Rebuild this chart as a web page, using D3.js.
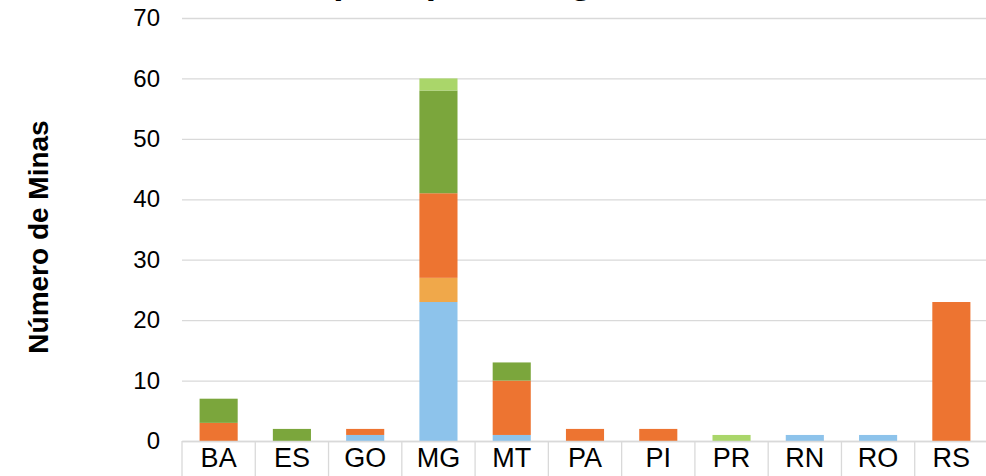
<!DOCTYPE html>
<html>
<head>
<meta charset="utf-8">
<script src="https://cdn.jsdelivr.net/npm/d3@7"></script>
<style>
  body { margin: 0; background: #fff; }
  svg { display: block; font-family: 'Liberation Sans', Arial, sans-serif; }
</style>
</head>
<body>
<script>
// categories (estados) and the five stacked series, bottom to top
let categories = ['BA', 'ES', 'GO', 'MG', 'MT', 'PA', 'PI', 'PR', 'RN', 'RO', 'RS']
let seriesNames = ['Tipo A', 'Tipo B', 'Tipo C', 'Tipo D', 'Tipo E']
let tipoA = [0, 0, 1, 23, 1, 0, 0, 0, 1, 1, 0]
let tipoB = [0, 0, 0, 4, 0, 0, 0, 0, 0, 0, 0]
let tipoC = [3, 0, 1, 14, 9, 2, 2, 0, 0, 0, 23]
let tipoD = [4, 2, 0, 17, 3, 0, 0, 0, 0, 0, 0]
let tipoE = [0, 0, 0, 2, 0, 0, 0, 1, 0, 0, 0]
let yTicks = [0, 10, 20, 30, 40, 50, 60, 70]

let colors = ['#8dc3eb', '#f0a84a', '#ed7431', '#7ba63c', '#aad66a']

let width = 986,
  height = 476,
  plot = { left: 182, right: 988, top: 18, bottom: 441 }

let svg = d3.select('body').append('svg')
  .attr('width', width)
  .attr('height', height)

let table = categories.map((c, i) => ({
  cat: c,
  'Tipo A': tipoA[i],
  'Tipo B': tipoB[i],
  'Tipo C': tipoC[i],
  'Tipo D': tipoD[i],
  'Tipo E': tipoE[i]
}))

let stacked = d3.stack().keys(seriesNames)(table)

let scaleX = d3.scaleBand()
  .domain(categories)
  .range([plot.left, plot.right])
  .paddingInner(0.48)
  .paddingOuter(0.24)

let scaleY = d3.scaleLinear()
  .domain([0, 70])
  .range([plot.bottom, plot.top])

// gridlines + y labels
let axisY = d3.axisLeft(scaleY)
  .tickValues(yTicks)
  .tickSize(-(plot.right - plot.left))
  .tickPadding(22)

let gy = svg.append('g')
  .attr('transform', 'translate(' + plot.left + ',0)')
  .call(axisY)
gy.select('.domain').remove()
gy.selectAll('line').attr('stroke', '#d9d9d9').attr('stroke-width', 1.3)
gy.selectAll('text')
  .attr('fill', '#000')
  .style('font-size', '24px')

// category separators below the axis
let step = scaleX.step()
svg.append('g')
  .selectAll('line')
  .data(d3.range(categories.length + 1))
  .enter()
  .append('line')
  .attr('x1', i => plot.left + step * i)
  .attr('x2', i => plot.left + step * i)
  .attr('y1', plot.bottom)
  .attr('y2', height)
  .attr('stroke', '#d9d9d9')
  .attr('stroke-width', 1.3)

// bars
svg.append('g')
  .selectAll('g')
  .data(stacked)
  .enter()
  .append('g')
  .attr('fill', (d, i) => colors[i])
  .selectAll('rect')
  .data(d => d)
  .enter()
  .append('rect')
  .attr('x', d => scaleX(d.data.cat))
  .attr('width', scaleX.bandwidth())
  .attr('y', d => scaleY(d[1]))
  .attr('height', d => scaleY(d[0]) - scaleY(d[1]))

// x axis
let axisX = d3.axisBottom(scaleX).tickSize(0).tickPadding(7)
let gx = svg.append('g')
  .attr('transform', 'translate(0,' + plot.bottom + ')')
  .call(axisX)
gx.select('.domain').attr('stroke', '#d9d9d9').attr('stroke-width', 1.3)
gx.selectAll('text')
  .attr('fill', '#000')
  .style('font-size', '27px')

// axis title
svg.append('text')
  .attr('transform', 'translate(48,237) rotate(-90)')
  .attr('text-anchor', 'middle')
  .style('font-size', '28px')
  .style('font-weight', 'bold')
  .text('Número de Minas')

// chart title, sits above the visible area (only descenders show)
svg.append('text')
  .attr('x', 432)
  .attr('y', -7)
  .attr('text-anchor', 'middle')
  .style('font-size', '37px')
  .style('font-weight', 'bold')
  .text('Minas por tipo de região')
</script>
</body>
</html>
